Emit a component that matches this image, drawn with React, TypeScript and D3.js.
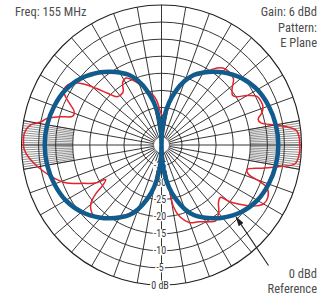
import React, { useEffect, useRef } from "react";
import * as d3 from "d3";

// rings (dB) and the labels printed on the lower spoke
const ringDb = [0, -5, -10, -15, -20, -25, -30, -35];
const ringLabels = ["0 dB", "-5", "-10", "-15", "-20", "-25", "-30", "-35"];

// grid: spokes every 10 deg, fine hatch every 1 deg around the horizon
const spokeAngles = d3.range(0, 360, 10);
const hatchAngles = [...d3.range(-10, 11, 1), ...d3.range(170, 191, 1)];

// blue 0 dBd reference (one quadrant, deg from horizon -> dB), mirrored into 4
const blueAngles = [0, 10, 20, 30, 40, 50, 55, 60, 65, 70, 75, 80, 85, 88, 90];
const blueDb = [-6.8, -7.0, -7.6, -8.6, -10.5, -13.2, -14.8, -16.5, -18.3, -21, -24.5, -28.5, -33.5, -37.5, -41];

// red measured pattern (deg counter-clockwise from 3 o'clock -> dB)
const redAngles = [
  0, 3, 6, 8, 10, 12.5, 15, 18, 21, 24, 27, 30, 33, 35, 38.5, 42.5, 47.5, 51.5, 56, 60, 65, 70, 75, 80, 85, 90,
  93, 96, 100, 105, 110, 114, 118, 122, 125, 127, 132.5, 136, 139, 142, 145.5, 149, 152, 155.5, 159, 162, 164.5, 167, 169, 171.5, 175, 180,
  182, 185.5, 190.5, 195, 200.5, 203.5, 206, 210, 211.7, 214.5, 216.5, 219.5, 223, 226, 230, 235, 240, 245, 250, 255, 260, 265, 270,
  273, 276, 280, 281, 284.5, 290, 296, 301.5, 305.5, 310.5, 315, 318.5, 320, 322.5, 326, 330, 334, 338, 339.5, 341.5, 344, 347, 350, 352, 357,
];
const redDb = [
  -0.5, -0.6, -1.2, -3.5, -7.2, -11.2, -11.7, -10.0, -9.2, -9.2, -9.6, -12.0, -15.0, -15.6, -14.6, -12.4, -11.8, -12.2, -14.2, -16.9, -18.8, -21.5, -25, -30, -32.5, -32,
  -30.5, -28, -26, -24.5, -22, -20.2, -18.8, -19.5, -21.5, -22.0, -21.8, -19.3, -15.8, -12.0, -9.0, -8.1, -8.7, -11.3, -13.6, -13.7, -10.0, -6.5, -5.2, -2.0, -0.7, -0.6,
  -0.8, -2.0, -4.5, -6.9, -10.1, -12.7, -15.4, -18.7, -21.8, -20.1, -17.1, -14.2, -12.8, -12.4, -13.6, -15.2, -16.9, -18.8, -21.3, -24.8, -28.8, -33, -36,
  -34, -33, -28, -22.5, -19.2, -16.8, -16.0, -14.6, -13.7, -15.2, -17.4, -17.9, -15.4, -12.6, -9.0, -6.5, -6.3, -7.7, -10.1, -14.2, -14.9, -10.8, -5.1, -1.5, -0.5,
];

const titleLeft = ["Freq: 155 MHz"];
const titleRight = ["Gain: 6 dBd", "Pattern:", "E Plane"];
const refLines = ["0 dBd", "Reference"];

const FONT = "'Liberation Sans Narrow', 'Roboto Condensed', 'Liberation Sans', Arial, sans-serif";

const App = () => {
  const ref = useRef<SVGSVGElement | null>(null);

  useEffect(() => {
    const width = 319;
    const height = 297;
    const cx = 161.5;
    const cy = 145;
    const R = 140;
    const hole = 8;
    const grid = "#231f20";

    const r = d3.scaleLinear().domain([-41, 0]).range([0, R]).clamp(true);
    const rFree = d3.scaleLinear().domain([-41, 0]).range([0, R]);
    const rad = (deg) => (deg * Math.PI) / 180;
    const px = (deg, rr) => cx + rr * Math.cos(rad(deg));
    const py = (deg, rr) => cy - rr * Math.sin(rad(deg));

    const svg = d3.select(ref.current).attr("width", width).attr("height", height);
    svg.selectAll("*").remove();

    svg.append("rect").attr("width", width).attr("height", height).attr("fill", "white");

    const defs = svg.append("defs");
    defs
      .append("marker")
      .attr("id", "arrow")
      .attr("viewBox", "0 0 10 6")
      .attr("refX", 9)
      .attr("refY", 3)
      .attr("markerWidth", 10)
      .attr("markerHeight", 6)
      .attr("markerUnits", "userSpaceOnUse")
      .attr("orient", "auto")
      .append("path")
      .attr("d", "M0,0 L10,3 L0,6 Z")
      .attr("fill", "#231f20");

    const g = svg.append("g");

    // hatch near the horizon
    g.selectAll("line.hatch")
      .data(hatchAngles)
      .join("line")
      .attr("x1", (d) => px(d, r(-15)))
      .attr("y1", (d) => py(d, r(-15)))
      .attr("x2", (d) => px(d, R))
      .attr("y2", (d) => py(d, R))
      .attr("stroke", grid)
      .attr("stroke-width", 0.5);

    // spokes
    g.selectAll("line.spoke")
      .data(spokeAngles)
      .join("line")
      .attr("x1", (d) => px(d, hole))
      .attr("y1", (d) => py(d, hole))
      .attr("x2", (d) => px(d, R))
      .attr("y2", (d) => py(d, R))
      .attr("stroke", grid)
      .attr("stroke-width", 0.9);

    // rings
    g.selectAll("circle.ring")
      .data(ringDb)
      .join("circle")
      .attr("cx", cx)
      .attr("cy", cy)
      .attr("r", (d) => r(d))
      .attr("fill", "none")
      .attr("stroke", grid)
      .attr("stroke-width", (d) => (d === 0 ? 1.1 : 0.9));

    g.append("circle")
      .attr("cx", cx)
      .attr("cy", cy)
      .attr("r", hole)
      .attr("fill", "white")
      .attr("stroke", grid)
      .attr("stroke-width", 0.6);

    // ring labels with white backing
    const labels = g
      .selectAll("g.lab")
      .data(ringDb)
      .join("g")
      .attr("transform", (d) => `translate(${cx - 1.5},${cy + r(d)})`);
    labels
      .append("text")
      .attr("text-anchor", "middle")
      .attr("dominant-baseline", "central")
      .attr("font-family", FONT)
      .attr("font-size", 10)
      .attr("fill", "#3a3a3a")
      .text((d, i) => ringLabels[i]);
    labels.each(function () {
      const t = d3.select(this).select("text");
      const b = (t.node() as SVGTextElement).getBBox();
      d3.select(this)
        .insert("rect", "text")
        .attr("x", b.x - 1)
        .attr("y", b.y + 1)
        .attr("width", b.width + 2)
        .attr("height", b.height - 2)
        .attr("fill", "white");
    });

    const radial = d3
      .lineRadial()
      .angle((d) => rad(90 - d[0]))
      .radius((d) => r(d[1]))
      .curve(d3.curveCatmullRomClosed.alpha(0.5));

    // red measured pattern
    const redPts = redAngles.map((a, i) => [a, redDb[i]]);
    g.append("path")
      .attr("transform", `translate(${cx},${cy})`)
      .attr("d", radial(redPts))
      .attr("fill", "none")
      .attr("stroke", "#e8212b")
      .attr("stroke-width", 1.5);

    // blue reference, mirrored quadrant
    const q = blueAngles.map((a, i) => [a, blueDb[i]]);
    const bluePts = [
      ...q,
      ...q.slice(0, -1).reverse().map(([a, v]) => [180 - a, v]),
      ...q.slice(1).map(([a, v]) => [180 + a, v]),
      ...q.slice(1, -1).reverse().map(([a, v]) => [360 - a, v]),
    ];
    g.append("path")
      .attr("transform", `translate(${cx},${cy})`)
      .attr("d", radial(bluePts))
      .attr("fill", "none")
      .attr("stroke", "#125b8d")
      .attr("stroke-width", 4.5);

    // arrow to the reference curve
    svg
      .append("line")
      .attr("x1", px(311.6, rFree(6.2)))
      .attr("y1", py(311.6, rFree(6.2)))
      .attr("x2", px(316, rFree(-10.6)))
      .attr("y2", py(316, rFree(-10.6)))
      .attr("stroke", "#231f20")
      .attr("stroke-width", 1.1)
      .attr("marker-end", "url(#arrow)");

    const txt = (x, y, s, anchor) =>
      svg
        .append("text")
        .attr("x", x)
        .attr("y", y)
        .attr("text-anchor", anchor)
        .attr("font-family", FONT)
        .attr("font-size", 12.5)
        .attr("fill", "#4d4d4d")
        .text(s);

    titleLeft.forEach((s, i) => txt(15, 16 + i * 15.5, s, "start"));
    titleRight.forEach((s, i) => txt(317, 16 + i * 15.5, s, "end"));
    refLines.forEach((s, i) => txt(317, 277.5 + i * 15.5, s, "end"));
  }, []);

  return (
    <div style={{ position: "absolute", left: 0, top: 0 }}>
      <svg ref={ref} style={{ display: "block" }}></svg>
    </div>
  );
};

export default App;
